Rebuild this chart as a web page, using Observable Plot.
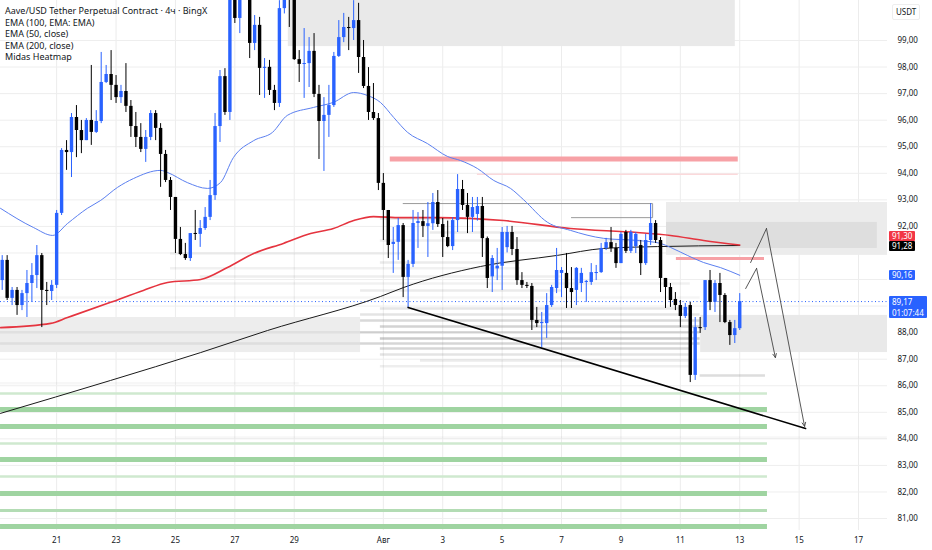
<!DOCTYPE html>
<html><head><meta charset="utf-8">
<script src="https://cdn.jsdelivr.net/npm/d3@7"></script>
<script src="https://cdn.jsdelivr.net/npm/@observablehq/plot@0.6"></script>
<style>
body{margin:0;background:#fff;font-family:"Noto Sans",sans-serif;}
#wrap{position:relative;width:932px;height:550px;overflow:hidden;}
#legend{position:absolute;left:5px;top:5px;font-size:9px;line-height:11.6px;color:#131722;pointer-events:none;white-space:nowrap;}
.tag{position:absolute;left:889px;color:#fff;font-size:8px;line-height:9.5px;padding:0 3px;border-radius:1px;white-space:nowrap;}
#usdt{position:absolute;left:892px;top:4px;font-size:8px;line-height:12px;padding:1px 3px;color:#131722;border:1px solid #eee;border-radius:2px;}
</style></head><body>
<div id="wrap"><div id="legend">
<div>Aave/USD Tether Perpetual Contract · 4ч · BingX</div>
<div>EMA (100, EMA: EMA)</div>
<div>EMA (50, close)</div>
<div>EMA (200, close)</div>
<div>Midas Heatmap</div>
</div><div id="usdt">USDT</div></div>
<script>
// ---- candles (4h), first bar Jul 19 04:00 ----
const opens = [89.96,90.72,89.29,89.59,89.02,89.47,89.85,90.15,90.90,89.59,
89.55,89.78,92.49,94.86,94.78,96.10,95.61,95.23,95.99,95.54,
95.95,97.42,97.72,97.31,96.85,97.08,96.52,95.76,95.35,94.90,
95.35,96.25,95.69,94.71,93.73,93.09,91.51,90.94,90.79,91.73,
91.70,91.92,92.34,93.16,95.76,97.64,96.29,100.9,99.83,100.8,
100.7,98.89,99.57,97.95,97.99,97.12,96.63,100.2,101.2,100.6,
98.28,98.10,98.13,98.59,96.97,95.95,96.18,96.55,98.40,99.11,
99.49,99.45,99.75,98.36,97.27,96.29,96.06,93.62,92.60,91.32,
91.40,92.03,90.08,90.57,92.11,92.18,92.00,92.10,92.90,92.07,
91.58,91.24,92.22,93.39,92.79,92.34,92.45,92.75,91.54,90.10,
90.40,90.50,91.20,91.77,91.13,89.96,89.78,89.74,88.46,88.34,
88.34,89.02,89.66,90.23,90.23,89.66,89.59,89.85,89.89,89.89,
90.23,90.26,91.17,91.39,91.17,90.60,91.77,91.06,91.24,91.28,
90.60,91.47,92.11,91.47,90.04,89.70,89.25,89.02,88.61,89.02,
86.39,88.19,88.19,89.96,89.14,89.85,89.40,88.38,87.89,88.15];
const highs = [90.90,90.90,89.70,89.70,89.59,90.34,90.60,91.28,90.98,89.89,
89.96,92.60,94.93,95.23,96.25,96.55,95.99,96.06,98.06,96.36,
98.55,98.06,98.62,97.68,97.31,98.13,96.74,96.29,95.87,95.61,
96.36,96.36,95.87,94.86,93.84,93.09,91.96,91.36,91.73,92.60,
92.22,92.71,93.73,96.25,97.87,97.94,101.2,101.3,101.1,101.6,
101.0,99.94,99.87,98.32,98.25,97.31,100.5,101.1,101.4,100.8,
98.62,99.45,99.11,99.26,97.31,96.85,97.31,98.55,99.75,100.02,
99.87,100.5,100.4,99.00,97.98,97.38,96.25,93.99,92.60,91.96,
92.30,92.11,90.72,92.60,92.52,92.60,92.90,93.24,93.35,92.30,
92.20,92.33,93.95,93.73,93.24,93.09,93.09,93.09,91.60,90.90,
91.17,91.96,92.00,92.00,91.58,90.26,89.89,89.85,88.95,88.76,
89.47,89.78,91.17,90.45,90.98,90.45,90.45,90.42,89.96,90.60,
90.53,91.36,91.55,91.96,91.36,91.77,91.85,91.85,91.77,91.47,
91.70,92.86,92.22,91.58,90.04,89.85,89.51,89.21,89.10,89.14,
88.57,88.57,89.96,90.34,89.96,90.23,89.47,88.46,88.46,89.47];
const lows = [89.59,89.21,89.02,88.65,88.83,88.57,89.14,89.66,88.19,89.02,
89.21,89.66,92.41,94.11,93.84,94.59,94.74,95.23,95.05,95.50,
95.87,97.38,96.74,96.63,96.63,96.29,95.35,94.97,94.78,94.41,
95.23,95.23,93.47,93.65,92.60,90.98,90.90,90.72,90.68,91.47,
91.21,91.85,92.22,92.98,95.16,96.18,95.99,99.64,99.26,100.6,
98.32,98.62,96.93,96.82,96.93,96.36,96.48,100.0,99.49,98.25,
97.42,96.82,97.23,96.85,94.52,94.07,95.35,96.48,98.36,98.92,
98.62,99.00,97.76,97.19,95.99,95.99,93.35,91.47,90.79,90.23,
90.72,89.32,88.95,90.45,91.17,91.58,90.83,91.85,91.96,90.83,
91.20,91.09,91.77,92.60,91.73,91.77,92.20,90.83,89.66,89.51,
89.96,89.59,91.00,90.90,89.78,89.66,89.66,88.08,88.19,87.44,
87.78,88.95,89.47,89.32,88.91,88.91,89.02,89.51,89.14,89.78,
89.96,90.23,91.09,91.02,90.42,90.60,90.98,90.98,90.98,90.15,
90.53,91.28,91.36,89.51,88.91,88.95,88.83,88.19,88.53,86.12,
86.20,87.97,88.08,88.83,88.76,88.38,88.34,87.52,87.59,88.08];
const closes = [90.72,89.29,89.59,89.02,89.47,89.85,90.15,90.90,89.59,89.55,
89.78,92.49,94.86,94.78,96.10,95.61,95.23,95.99,95.54,95.95,
97.42,97.72,97.31,96.85,97.08,96.52,95.76,95.35,94.90,95.35,
96.25,95.69,94.71,93.73,93.09,91.51,90.94,90.79,91.73,91.70,
91.92,92.34,93.16,95.76,97.64,96.29,100.9,99.83,100.8,100.7,
98.89,99.57,97.95,97.99,97.12,96.63,100.2,100.8,100.6,98.28,
98.10,98.13,98.59,96.97,95.95,96.18,96.55,98.40,99.11,99.49,
99.45,99.75,98.36,97.27,96.29,96.06,93.62,92.60,91.28,91.40,
92.03,90.08,90.57,92.11,92.18,92.00,92.10,92.90,92.07,91.58,
91.24,92.22,93.39,92.79,92.34,92.71,92.75,91.54,90.04,90.79,
90.50,91.77,91.77,91.13,89.96,89.78,89.74,88.46,88.34,88.38,
89.02,89.70,90.34,90.34,89.66,89.51,90.42,90.23,89.93,90.26,
90.26,91.17,91.39,91.17,90.60,91.70,91.06,91.77,91.70,90.60,
91.47,92.11,91.47,90.04,89.70,89.21,89.02,88.61,88.95,86.39,
88.19,88.15,89.96,89.14,89.85,89.40,88.38,87.89,88.15,89.17];

// ---- indicator lines (bar index, price) ----
const ema50Idx = [-0.34,6.3,10.2,13.2,17.2,19.9,23.3,26.5,32.0,33.4,37.4,41.5,44.1,46.7,50.8,54.6,57.6,62.9,66.9,71.0,73.8,76.4,79.1,81.9,85.9,90.0,92.6,96.0,99.3,102.7,105.3,110.2,114.8,121.5,128.3,133.0,135.0,138.4,141.7,145.1,149];
const ema50Val = [92.68,91.96,91.66,92.11,92.68,92.98,93.47,93.80,94.11,94.03,93.65,93.43,93.65,94.59,95.23,95.54,96.18,96.48,96.67,97.04,96.93,96.67,96.10,95.54,95.12,94.63,94.48,94.18,93.73,93.43,93.01,92.15,91.85,91.55,91.47,91.36,91.21,90.91,90.64,90.45,90.16];
const ema200Idx = [-0.34,9.8,13.2,21.9,28.5,33.4,40.1,45.5,50.8,56.8,62.3,66.9,71.0,75.0,80.5,87.9,101.3,114.8,128.3,135.0,141.7,149];
const ema200Val = [88.19,88.35,88.57,89.14,89.59,89.89,90.00,90.45,90.98,91.36,91.73,91.92,92.22,92.37,92.33,92.33,92.22,91.92,91.77,91.66,91.47,91.30];
const ema100Idx = [-0.34,21.9,40.1,53.6,76.4,81.1,96.6,112.2,121.5,132.4,149];
const ema100Val = [84.96,86.20,87.25,88.08,89.36,89.70,90.49,90.91,91.17,91.24,91.28];

const trendIdx = [82,162.3];
const trendVal = [88.95,84.39];
const arrow1Idx = [150.2,152.4,156.2];
const arrow1Val = [89.66,90.42,87.06];
const arrow2Idx = [151.2,154.4,162.1];
const arrow2Val = [90.64,91.92,84.47];

// ---- zones [low, high, fromIdx, toIdx, fill] ----
const zoneLow  = [98.77, 87.25, 90.91, 91.17, 87.25];
const zoneHigh = [101.0, 88.57, 92.90, 92.15, 88.65];
const zoneFrom = [57.8, -0.34, 134.2, 134.2, 141.1];
const zoneTo   = [148.1, 72.4, 178.85, 176.8, 178.85];
const zoneFill = ["#e9e9e9","#ededed","#ececec","#dedede","#e9e9e9"];

// ---- heatmap levels ----
const heatVal  = [90.98,90.64,90.42,90.11,89.85,89.59,89.32,88.91,88.68,88.46,88.23,88.01,87.78,87.59,87.40,87.18,86.95,86.73,86.39,86.09,84.05,92.30,91.77,91.47,88.01,87.59];
const heatFrom = [34,76.4,34,40,36,72.4,-0.34,76.4,72.4,72.4,76.4,72.4,76.4,72.4,76.4,76.4,84.5,76.4,141,-0.34,35,76.4,86.5,76.4,-0.34,-0.34];
const heatTo   = [80.5,104.7,104.7,113,139,113,141,139,141,141,141,141,141,141,139,139,139,139,154.2,60,178.8,94.6,113,129,72.4,72.4];
const heatAlpha= [0.10,0.15,0.10,0.12,0.10,0.15,0.07,0.18,0.20,0.28,0.32,0.28,0.38,0.30,0.30,0.20,0.15,0.12,0.25,0.06,0.06,0.20,0.15,0.12,0.10,0.12];
const levelBoxIdx = [81,131.4,131.4,115];
const levelBoxVal = [92.86,92.86,92.33,92.33];

// ---- green support bands ----
const greenVal = [85.71,85.11,84.47,83.83,83.22,82.58,81.94,81.30,80.70];
const greenStrong = [0,1,1,0,1,0,1,0.5,1];
const greenFrom = -0.34, greenTo = 154.6;

// ---- red resistance ----
const redVal = [94.54, 93.96, 90.79];
const redFrom = [78.4, 96, 136.2];
const redTo = [148.7, 148.7, 154];
const redWidth = [5, 1.5, 3];
const redColor = ["#f7a1a6","#fbd9db","#f7a1a6"];

const lastPrice = 89.17;
const xTickDays = ["2023-07-21","2023-07-23","2023-07-25","2023-07-27","2023-07-29","2023-08-01","2023-08-03","2023-08-05","2023-08-07","2023-08-09","2023-08-11","2023-08-13","2023-08-15","2023-08-17"];
const yTicks = [81,82,83,84,85,86,87,88,89,90,91,92,93,94,95,96,97,98,99];
const yHiddenLabels = [89,90,91];   // covered by the price tags in the reference
const tagPrice = [91.30, 91.28, 90.16, 89.17];
const tagText = ["91,30", "91,28", "90,16", "89,17<br>01:07:44"];
const tagColor = ["#f23645", "#000000", "#2962ff", "#2962ff"];

// ---- build ----
const t0 = Date.UTC(2023, 6, 19, 4);
const H4 = 4 * 3600 * 1000;
const at = i => new Date(t0 + i * H4);
const candles = opens.map((o, i) => {
  const c = closes[i];
  let top = Math.max(o, c), bot = Math.min(o, c);
  if (top - bot < 0.04) { const m = (top + bot) / 2; top = m + 0.02; bot = m - 0.02; }
  return {date: at(i), h: highs[i], l: lows[i], top, bot, color: c >= o ? "#2962ff" : "#000000"};
});
const pts = (idx, val) => idx.map((k, j) => ({date: at(k), v: val[j]}));
const zones = zoneLow.map((lo, i) => ({x1: at(zoneFrom[i]), x2: at(zoneTo[i]), y1: lo, y2: zoneHigh[i], fill: zoneFill[i]}));
const heat = heatVal.map((v, i) => ({x1: at(heatFrom[i]), x2: at(heatTo[i]), v, a: heatAlpha[i]}));
const greens = greenVal.map((v, i) => ({x1: at(greenFrom), x2: at(greenTo), v, s: greenStrong[i]}));
const reds = redVal.map((v, i) => ({x1: at(redFrom[i]), x2: at(redTo[i]), v, w: redWidth[i], c: redColor[i]}));
const xTicks = xTickDays.map(s => new Date(s + "T00:00:00Z"));
const a1 = pts(arrow1Idx, arrow1Val), a2 = pts(arrow2Idx, arrow2Val);

const chart = Plot.plot({
  width: 932, height: 550,
  marginLeft: 0, marginRight: 45, marginTop: 0, marginBottom: 20,
  style: {fontFamily: "Noto Sans, sans-serif", fontSize: "8px", color: "#131722", background: "#fff"},
  x: {type: "utc", domain: [at(-0.3434), at(178.85)]},
  y: {domain: [80.55, 100.506]},
  marks: [
    Plot.gridX(xTicks, {stroke: "#ececec", strokeOpacity: 1}),
    Plot.gridY(yTicks, {stroke: "#eeeeee", strokeOpacity: 1}),
    Plot.rect(zones, {x1: "x1", x2: "x2", y1: "y1", y2: "y2", fill: "fill", clip: true}),
    Plot.ruleY(heat, {y: "v", x1: "x1", x2: "x2", stroke: "#777", strokeOpacity: "a", strokeWidth: 2.5, clip: true}),
    Plot.ruleY(greens, {y: "v", x1: "x1", x2: "x2", stroke: d => d.s === 1 ? "#9fd4a1" : d.s === 0 ? "#cfe9cf" : "#b3dcb4", strokeWidth: d => d.s === 1 ? 5 : d.s === 0 ? 2.5 : 3, clip: true}),
    Plot.ruleY(reds, {y: "v", x1: "x1", x2: "x2", stroke: "c", strokeWidth: "w", clip: true}),
    Plot.line(pts(levelBoxIdx, levelBoxVal), {x: "date", y: "v", stroke: "#9a9a9a", strokeWidth: 1}),
    Plot.ruleY([lastPrice], {stroke: "#2962ff", strokeWidth: 1, strokeDasharray: "1,2.5"}),
    Plot.line(pts(ema100Idx, ema100Val), {x: "date", y: "v", stroke: "#1a1a1a", strokeWidth: 1, curve: "monotone-x", clip: true}),
    Plot.line(pts(ema200Idx, ema200Val), {x: "date", y: "v", stroke: "#e5343f", strokeWidth: 1.6, curve: "monotone-x", clip: true}),
    Plot.line(pts(ema50Idx, ema50Val), {x: "date", y: "v", stroke: "#5b7ff0", strokeWidth: 1, curve: "monotone-x", clip: true}),
    Plot.ruleX(candles, {x: "date", y1: "l", y2: "h", stroke: "color", strokeWidth: 1, clip: true}),
    Plot.ruleX(candles, {x: "date", y1: "bot", y2: "top", stroke: "color", strokeWidth: 3.4, clip: true}),
    Plot.line(pts(trendIdx, trendVal), {x: "date", y: "v", stroke: "#000", strokeWidth: 1.6}),
    Plot.line(a1.slice(0, 2), {x: "date", y: "v", stroke: "#444", strokeWidth: 0.9}),
    Plot.arrow([{x1: a1[1].date, y1: a1[1].v, x2: a1[2].date, y2: a1[2].v}], {x1: "x1", y1: "y1", x2: "x2", y2: "y2", stroke: "#444", strokeWidth: 0.9, headLength: 7, headAngle: 50}),
    Plot.line(a2.slice(0, 2), {x: "date", y: "v", stroke: "#444", strokeWidth: 0.9}),
    Plot.arrow([{x1: a2[1].date, y1: a2[1].v, x2: a2[2].date, y2: a2[2].v}], {x1: "x1", y1: "y1", x2: "x2", y2: "y2", stroke: "#444", strokeWidth: 0.9, headLength: 7, headAngle: 50}),
    Plot.axisX({ticks: xTicks, tickSize: 0, tickPadding: 7, tickFormat: d => d.getUTCDate() === 1 ? "Авг" : String(d.getUTCDate()), label: null}),
    Plot.axisY({anchor: "right", ticks: yTicks.filter(t => !yHiddenLabels.includes(t)), tickSize: 0, tickPadding: 10, tickFormat: d => d.toFixed(2).replace(".", ","), label: null, textAnchor: "start"})
  ]
});
const wrap = document.getElementById("wrap");
wrap.prepend(chart);

// price tags on the right axis, placed with the chart's own y scale
const ys = chart.scale("y");
const tagShift = [-8.3, 1, 0, 0];
tagPrice.forEach((p, i) => {
  const el = document.createElement("div");
  el.className = "tag";
  el.innerHTML = tagText[i];
  el.style.background = tagColor[i];
  el.style.top = (ys.apply(p) + tagShift[i] - 4.75) + "px";
  if (i === 3) { el.style.lineHeight = "11px"; el.style.top = (ys.apply(p) - 5.5) + "px"; }
  wrap.appendChild(el);
});
</script>
</body></html>
